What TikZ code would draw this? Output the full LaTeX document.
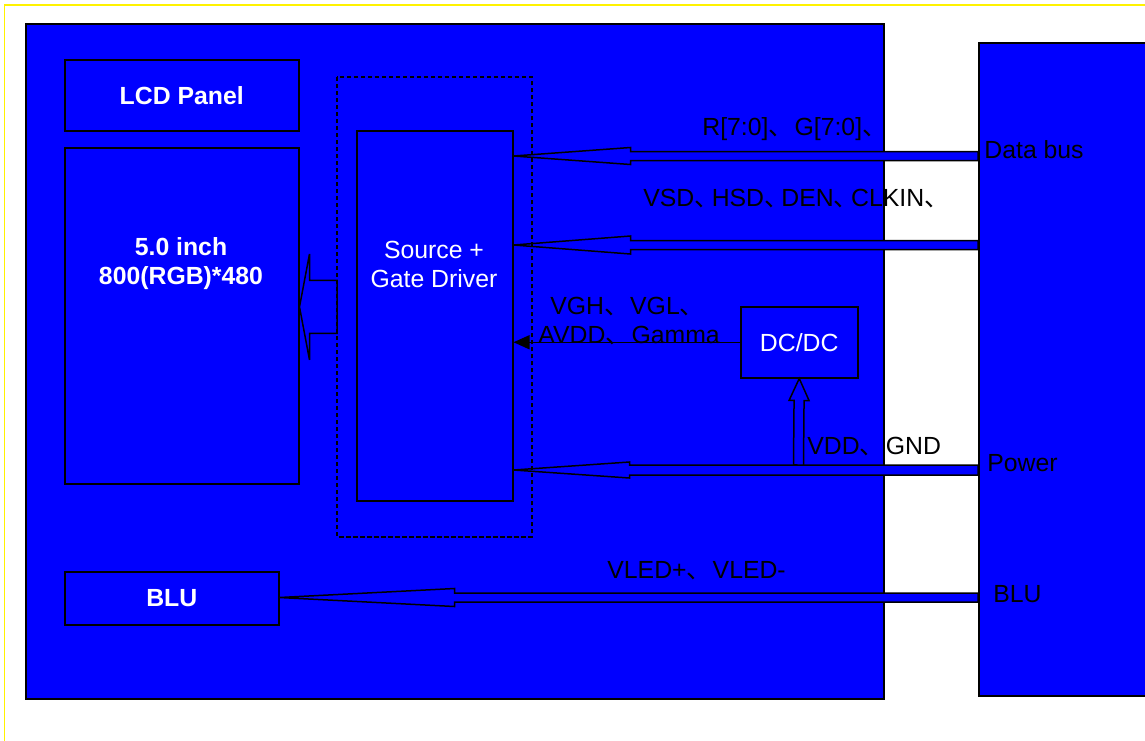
\documentclass[tikz,border=0pt]{standalone}
\usepackage{fontspec}
\setmainfont{Liberation Sans}
\newfontfamily\cjk{Noto Sans CJK SC}
\usetikzlibrary{arrows.meta, calc}
\definecolor{lcdblue}{HTML}{0000FF}
\newcommand{\lcdfont}{\fontsize{12.4}{14.5}\selectfont}
\newcommand{\dun}[1][1.05em]{\makebox[#1][l]{\cjk 、}}
% hollow bus arrow: #1 tail, #2 tip, #3 head length, #4 half head, #5 half shaft
\newcommand{\busarrow}[5]{%
  \coordinate (hb) at ($(#2)!#3!(#1)$);
  \draw[bus] (#2) -- ($(hb)!#4!90:(#1)$) -- ($(hb)!#5!90:(#1)$)
    -- ($(#1)!#5!-90:(hb)$) -- ($(#1)!#5!90:(hb)$)
    -- ($(hb)!#5!-90:(#1)$) -- ($(hb)!#4!-90:(#1)$) -- cycle;%
}

\begin{document}
\begin{tikzpicture}[x=0.5pt, y=-0.5pt, font=\lcdfont,
  blk/.style={rectangle, draw, fill=lcdblue, line width=0.75pt, inner sep=0pt, anchor=north west},
  btxt/.style={text=white, font=\lcdfont\bfseries, align=center, inner sep=0pt},
  wtxt/.style={text=white, align=center, inner sep=0pt},
  lbl/.style={anchor=base west, inner sep=0pt},
  bus/.style={draw, fill=lcdblue, line width=0.75pt, line join=miter},
  sig/.style={-{Triangle[length=8pt, width=7pt]}, line width=0.75pt}
]
\useasboundingbox (0,0) rectangle (1145,740);
\draw[yellow, line width=0.9pt] (4.5,5) rectangle (1170,760);

% ===== Module and host =====
\node[blk, minimum width=429pt, minimum height=337.5pt] (module) at (25,23) {};
\node[blk, minimum width=100pt, minimum height=326.5pt] (host) at (978,42) {};

% ===== Blocks inside the module =====
\node[blk, minimum width=117pt, minimum height=35.5pt] (lcd) at (64,59) {};
\node[btxt] (lcdtxt) at (lcd.center) {LCD Panel};
\node[blk, minimum width=117pt, minimum height=168pt] (panel) at (64,147) {};
\node[btxt] (paneltxt) at (181,264) {5.0 inch\\800(RGB)*480};
\node[rectangle, inner sep=0pt, anchor=north west, minimum width=97pt, minimum height=229.5pt] (drvzone) at (337,77) {};
\node[blk, minimum width=78pt, minimum height=185pt] (driver) at (356,130) {};
\node[wtxt] (drvtxt) at (434,264) {Source +\\Gate Driver};
\node[blk, minimum width=58.5pt, minimum height=35.5pt] (dcdc) at (740,306) {};
\node[wtxt] (dcdctxt) at (dcdc.center) {DC/DC};
\node[blk, minimum width=107pt, minimum height=26.5pt] (blu) at (64,571) {};
\node[btxt] (blutxt) at (blu.center) {BLU};

% ===== Bus ends on the host =====
\coordinate (tdata) at (978,156);
\coordinate (tsync) at (978,245);
\coordinate (tpow) at (978,470);
\coordinate (tblu) at (978,597.5);
\coordinate (vtap) at (798.5,465);

% ===== Links =====
\busarrow{tdata}{driver.east |- tdata}{58.5pt}{4.25pt}{2.25pt}
\busarrow{tsync}{driver.east |- tsync}{58.5pt}{4.5pt}{2.25pt}
\busarrow{tpow}{driver.east |- tpow}{58pt}{4pt}{2.5pt}
\busarrow{vtap}{dcdc.south}{11pt}{5pt}{2.5pt}
\busarrow{tblu}{blu.east |- tblu}{87.5pt}{4.5pt}{2.25pt}
\busarrow{drvzone.west}{panel.east |- drvzone.west}{5pt}{26.5pt}{13.25pt}
\draw[sig] (dcdc.west) -- (driver.east |- dcdc.west);
\draw[dash pattern=on 2.2pt off 1.3pt, line width=0.7pt] (drvzone.north west) rectangle (drvzone.south east);

% ===== Labels =====
\node[lbl] (lrgb) at (702,135) {R[7:0]\dun G[7:0]\dun};
\node[lbl] (lsync) at (643,206) {VSD\dun[0.7em]HSD\dun[0.7em]DEN\dun[0.7em]CLKIN\dun[0.7em]};
\node[lbl] (lvgh) at (550,314) {VGH\dun VGL\dun};
\node[lbl] (lavdd) at (538,343) {AVDD\dun Gamma};
\node[lbl] (lvdd) at (807,454) {VDD\dun GND};
\node[lbl] (lvled) at (607,578) {VLED+\dun VLED-};
\node[lbl] (pdata) at (984,158) {Data bus};
\node[lbl] (ppow) at (987,471) {Power};
\node[lbl] (pblu) at (993,602) {BLU};

\end{tikzpicture}
\end{document}
